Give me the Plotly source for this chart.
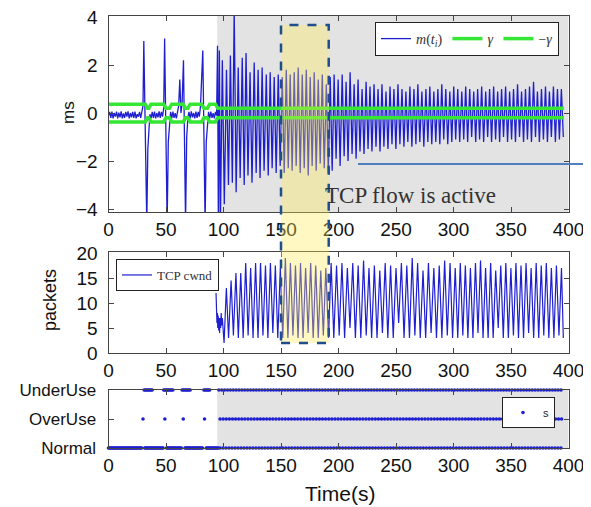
import plotly.graph_objects as go

# ---------------------------------------------------------------- data
time_ticks = [0, 50, 100, 150, 200, 250, 300, 350, 400]
ms_ticks = [-4, -2, 0, 2, 4]
pkt_ticks = [0, 5, 10, 15, 20]
state_vals = [0, 1, 2]
state_labels = ["Normal", "OverUse", "UnderUse"]

tcp_start = 94.5            # s, TCP flow becomes active (grey region)
highlight = [150.0, 191.5]  # s, highlighted interval

# m(t_i) before the TCP flow: (time s, value ms)
m_pre = [
    (0, -0.10), (1, 0.05), (2, -0.20), (3, 0.06), (4, -0.22), (5, 0.00), (6, -0.15), (7, 0.06),
    (8, -0.22), (9, 0.02), (10, -0.18), (11, 0.07), (12, -0.22), (13, -0.02), (14, -0.20), (15, 0.05),
    (16, -0.15), (17, 0.07), (18, -0.22), (19, 0.00), (20, -0.18), (21, 0.05), (22, -0.20), (23, 0.06),
    (24, -0.22), (25, -0.05), (26, -0.15), (27, 0.05), (28, -0.20), (29, 0.00),
    (30.0, 0.30), (30.7, 3.00), (33.3, -4.60), (34.2, -1.50), (35.2, -0.40),
    (36, -0.05), (37, -0.22), (38, 0.05), (39, -0.20), (40, 0.06), (41, -0.22), (42, 0.00), (43, -0.18),
    (44, 0.07), (45, -0.20), (46, 0.05), (47, -0.15), (48, 0.20),
    (48.8, 3.10), (51.0, -4.60), (52.0, -1.20), (53.0, -0.30),
    (54, 0.05), (55, -0.22), (56, 0.06), (57, -0.20), (58, 0.00), (59, -0.22), (60, 0.08), (61, 0.30),
    (62, 1.40), (63, 0.00), (64, 0.40),
    (65.2, 2.20), (67.0, -4.60), (68.0, -1.00), (69.0, -0.20),
    (70, 0.05), (71, -0.22), (72, 0.07), (73, -0.18), (74, 0.00), (75, -0.22), (76, 0.06), (77, -0.20),
    (78, 0.05), (79, -0.15), (80, 0.30),
    (82.0, 2.60), (84.0, -4.60), (85.0, -1.20), (86.0, -0.30),
    (87, 0.05), (88, -0.22), (89, 0.06), (90, -0.20), (91, 0.00), (92, -0.22), (93, 0.05), (94, -0.10),
    (94.8, 2.80), (95.6, -4.60), (96.4, 2.60), (97.3, -4.60), (98.0, -1.00),
]

# m(t_i) while the TCP flow is active: alternating peaks / troughs
m_tcp = [
    (99.0, 2.2), (100.7, -3.8), (102.6, 1.8), (104.3, -3.0), (106.0, 2.4), (107.7, -2.9), (109.3, 4.3),
    (111.0, -3.3), (112.8, 1.9), (114.5, -2.7), (116.3, 2.3), (118.0, -3.0), (119.6, 2.5), (121.3, -2.6),
    (123.1, 1.7), (124.8, -2.9), (126.7, 2.1), (128.4, -2.5), (130.1, 1.8), (131.8, -2.7), (133.6, 1.9),
    (135.3, -2.4), (137.2, 1.6), (138.9, -2.6), (140.6, 1.7), (142.3, -2.3), (144.1, 1.5), (145.8, -2.5),
    (147.6, 1.6), (149.3, -2.2),
    (151.1, 1.5), (152.8, -2.5), (154.6, 1.8), (156.3, -2.3), (158.0, 1.6), (159.7, -2.4), (161.5, 1.7),
    (163.2, -2.2), (165.0, 1.9), (166.7, -2.5), (168.5, 1.6), (170.2, -2.3), (172.0, 1.8), (173.7, -2.6),
    (175.4, 1.5), (177.1, -2.2), (178.9, 1.7), (180.6, -2.4), (182.4, 1.4), (184.1, -2.1), (185.9, 1.6),
    (187.6, -2.3), (189.4, 1.2), (191.1, -2.5), (192.8, 1.5), (194.5, -2.4), (196.2, 1.6), (197.9, -1.9),
    (199.7, 1.4),
    (201.4, -2.2), (203.2, 1.6), (204.9, -1.8), (206.6, 1.3), (208.3, -2.0), (210.1, 1.7), (211.8, -1.7),
    (213.6, 1.2), (215.3, -1.9), (217.0, 1.4), (218.7, -1.6), (220.5, 1.0), (222.2, -1.7), (224.0, 1.3),
    (225.7, -1.5), (227.4, 1.1), (229.1, -1.6), (230.9, 1.2), (232.6, -1.4), (234.4, 1.0), (236.1, -1.6),
    (237.8, 1.2), (239.5, -1.4), (241.3, 0.9), (243.0, -1.5), (244.8, 1.1), (246.5, -1.3), (248.2, 1.0),
    (249.9, -1.5),
    (251.7, 1.2), (253.4, -1.3), (255.2, 1.0), (256.9, -1.4), (258.6, 0.9), (260.3, -1.2), (262.1, 1.1),
    (263.8, -1.4), (265.6, 1.0), (267.3, -1.3), (269.0, 1.2), (270.7, -1.2), (272.5, 0.9), (274.2, -1.4),
    (276.0, 1.0), (277.7, -1.2), (279.4, 1.1), (281.1, -1.3), (282.9, 0.9), (284.6, -1.2), (286.4, 1.0),
    (288.1, -1.3), (289.8, 1.2), (291.5, -1.1), (293.3, 1.0), (295.0, -1.3), (296.8, 0.9), (298.5, -1.2),
    (300.2, 1.1), (301.9, -1.1), (303.7, 1.0), (305.4, -1.2), (307.2, 0.9), (308.9, -1.1), (310.6, 1.1),
    (312.3, -1.2), (314.1, 1.0), (315.8, -1.0), (317.6, 0.9), (319.3, -1.2), (321.0, 1.0), (322.7, -1.1),
    (324.5, 1.1), (326.2, -1.2), (328.0, 0.9), (329.7, -1.0), (331.4, 1.0), (333.1, -1.2), (334.9, 1.1),
    (336.6, -1.1), (338.4, 0.9), (340.1, -1.2), (341.8, 1.0), (343.5, -1.0), (345.3, 1.1), (347.0, -1.2),
    (348.8, 0.9),
    (350.5, -1.1), (352.2, 1.0), (353.9, -1.2), (355.7, 1.2), (357.4, -1.0), (359.2, 0.9), (360.9, -1.2),
    (362.6, 1.0), (364.3, -1.1), (366.1, 1.1), (367.8, -1.2), (369.6, 1.3), (371.3, -1.0), (373.0, 0.9),
    (374.7, -1.2), (376.5, 1.0), (378.2, -1.1), (380.0, 1.1), (381.7, -1.2), (383.4, 0.9), (385.1, -1.0),
    (386.9, 1.1), (388.6, -1.2), (390.4, 1.0), (392.1, -1.1), (393.8, 1.0), (395.5, -1.0),
]

# adaptive threshold gamma: (time s, value ms)
gamma = [
    (0, 0.37), (32, 0.37), (34, 0.20), (35, 0.20), (37, 0.37), (48, 0.37), (50, 0.20), (53, 0.20),
    (55, 0.37), (65, 0.37), (67, 0.20), (69, 0.20), (71, 0.37), (81, 0.37), (83, 0.20), (86, 0.20),
    (88, 0.37), (93, 0.37), (95, 0.20), (396, 0.20),
]

# TCP congestion window: (time s, packets)
cwnd = [
    (93.5, 12.0), (94.0, 9.0), (94.3, 6.0), (94.7, 8.0), (95.0, 5.0), (95.4, 7.5), (95.8, 4.5), (96.2, 7.0),
    (96.6, 4.0), (97.0, 7.0), (97.5, 5.0), (98.0, 8.0), (98.5, 5.5), (99.0, 7.0), (100.5, 2.0),
    (102.5, 13.0), (104.4, 3.0), (106.6, 14.5), (108.6, 3.5), (110.8, 16.0), (112.9, 3.0), (115.0, 16.0),
    (117.1, 3.0), (119.3, 18.0), (121.4, 3.5), (123.6, 17.0), (125.7, 3.0), (127.9, 18.0), (130.0, 3.0),
    (132.2, 18.0), (134.3, 3.5), (136.5, 17.5), (138.6, 3.0), (140.8, 18.0), (142.9, 4.0), (145.1, 17.5),
    (147.2, 3.0), (149.4, 17.0), (151.5, 3.0),
    (153.8, 19.0), (156.0, 3.0), (158.2, 18.0), (160.4, 3.5), (162.6, 17.5), (164.8, 3.0), (167.0, 18.0),
    (169.2, 3.0), (171.4, 17.0), (173.6, 4.0), (175.8, 18.0), (178.0, 3.0), (180.2, 17.5), (182.4, 3.0),
    (184.6, 16.5), (186.8, 3.5), (189.0, 17.0), (191.3, 3.0),
    (193.6, 18.0), (195.9, 3.0), (198.3, 17.5), (200.6, 3.5), (203.0, 18.0), (205.3, 3.0), (207.7, 17.0),
    (210.0, 5.0), (212.4, 18.0), (214.7, 3.0), (217.1, 17.5), (219.4, 3.0), (221.8, 18.5), (224.1, 3.5),
    (226.5, 17.0), (228.8, 3.0), (231.2, 17.5), (233.5, 3.0), (235.9, 16.5), (238.2, 4.0), (240.6, 18.0),
    (242.9, 3.0), (245.3, 17.5), (247.6, 3.0),
    (250.0, 17.0), (252.3, 6.0), (254.7, 18.0), (257.0, 3.0), (259.4, 17.5), (261.7, 3.0), (264.1, 19.0),
    (266.4, 3.5), (268.8, 18.0), (271.1, 3.0), (273.5, 16.5), (275.8, 3.0), (278.2, 18.0), (280.5, 4.0),
    (282.9, 17.0), (285.2, 3.0), (287.6, 17.5), (289.9, 3.0), (292.3, 18.5), (294.6, 3.5), (297.0, 18.0),
    (299.2, 3.0),
    (301.5, 17.0), (303.7, 3.0), (305.9, 18.0), (308.1, 3.5), (310.3, 17.5), (312.5, 3.0), (314.7, 17.0),
    (316.9, 3.0), (319.1, 18.0), (321.3, 4.0), (323.5, 18.5), (325.7, 3.0), (327.9, 17.0), (330.1, 3.0),
    (332.3, 18.0), (334.5, 3.0), (336.7, 16.5), (338.9, 5.0), (341.1, 17.5), (343.3, 3.0), (345.5, 18.0),
    (347.7, 3.0),
    (349.9, 17.0), (352.1, 3.5), (354.3, 18.0), (356.5, 3.0), (358.7, 17.5), (360.9, 3.0), (363.1, 18.0),
    (365.3, 4.0), (367.5, 17.0), (369.7, 3.0), (371.9, 18.0), (374.1, 3.0), (376.3, 17.5), (378.5, 3.5),
    (380.7, 18.0), (382.9, 3.0), (385.1, 17.0), (387.3, 3.0), (389.5, 17.5), (391.7, 3.5), (393.9, 17.0),
    (395.5, 3.0),
]

# detector state s: runs (start s, end s, sampling step s) per state, plus isolated samples
normal_runs = [(0, 29, 0.8), (31.5, 47.5, 0.8), (50.5, 63.5, 0.8), (66.5, 82, 0.8), (85, 96, 0.8), (97, 395, 2.6)]
overuse_runs = [(97, 395, 2.7)]
overuse_single = [30, 49, 65, 83.5]
underuse_runs = [(31, 38, 1.0), (48, 56, 1.0), (64, 71, 1.0), (83, 88, 1.0), (96, 395, 2.5)]

# ---------------------------------------------------------------- helpers
def expand(runs):
    out = []
    for a, b, step in runs:
        t = a
        while t <= b + 1e-9:
            out.append(round(t, 3))
            t += step
    return out

m_all = m_pre + m_tcp
m_t = [p[0] for p in m_all]
m_v = [p[1] for p in m_all]
g_t = [p[0] for p in gamma]
g_v = [p[1] for p in gamma]
c_t = [p[0] for p in cwnd]
c_v = [p[1] for p in cwnd]

s_t, s_v = [], []
for ts, val in ((expand(normal_runs), 0), (expand(overuse_runs) + overuse_single, 1), (expand(underuse_runs), 2)):
    s_t += ts
    s_v += [val] * len(ts)

# ---------------------------------------------------------------- layout geometry (screen pixels)
W, H = 591, 507
PAGE_MARGIN = 8            # default body margin of the html page
FW, FH = W - PAGE_MARGIN, H - PAGE_MARGIN
PL, PR = 108.5, 568.5
TOP = (16, 212)
MID = (252, 353)
BOT = (390, 448)
X_RANGE = [0, 400]


def fx(p):
    return (p - PAGE_MARGIN) / FW


def fy(p):
    return 1 - (p - PAGE_MARGIN) / FH


def tx(t):  # data time -> paper x
    return fx(PL + (t - X_RANGE[0]) / (X_RANGE[1] - X_RANGE[0]) * (PR - PL))


BLUE = "#1f1fd2"
GREEN = "#35e635"
AX = "#444444"
SANS = "Liberation Sans, Arial, sans-serif"
SERIF = "Liberation Serif, Times New Roman, serif"
TICKFONT = dict(family=SANS, size=19, color="#111111")

fig = go.Figure()
fig.add_trace(go.Scatter(x=m_t, y=m_v, mode="lines", line=dict(color=BLUE, width=1.3),
                         name="<i>m</i>(<i>t<sub>i</sub></i>)", xaxis="x", yaxis="y", legend="legend"))
fig.add_trace(go.Scatter(x=g_t, y=g_v, mode="lines", line=dict(color=GREEN, width=3.5),
                         name="<i>γ</i>", xaxis="x", yaxis="y", legend="legend"))
fig.add_trace(go.Scatter(x=g_t, y=[-v for v in g_v], mode="lines", line=dict(color=GREEN, width=3.5),
                         name="−<i>γ</i>", xaxis="x", yaxis="y", legend="legend"))
fig.add_trace(go.Scatter(x=c_t, y=c_v, mode="lines", line=dict(color=BLUE, width=1.2),
                         name="TCP cwnd", xaxis="x2", yaxis="y2", legend="legend2"))
fig.add_trace(go.Scatter(x=s_t, y=s_v, mode="markers", marker=dict(color=BLUE, size=3.6),
                         name="s", xaxis="x3", yaxis="y3", legend="legend3", cliponaxis=False))

common = dict(ticks="inside", ticklen=5, tickcolor=AX, showline=True, linecolor=AX, linewidth=1,
              mirror="ticks", showgrid=False, zeroline=False, tickfont=TICKFONT, automargin=False,
              ticklabeloverflow="allow")
xcommon = dict(range=X_RANGE, tickvals=time_ticks, ticklabelstandoff=0, **common)

fig.update_layout(
    width=FW, height=FH, margin=dict(l=0, r=0, t=0, b=0, pad=0, autoexpand=False),
    paper_bgcolor="white", plot_bgcolor="white", showlegend=True,
    xaxis=dict(domain=[fx(PL), fx(PR)], anchor="y", **xcommon),
    xaxis2=dict(domain=[fx(PL), fx(PR)], anchor="y2", **xcommon),
    xaxis3=dict(domain=[fx(PL), fx(PR)], anchor="y3", **xcommon),
    yaxis=dict(domain=[fy(TOP[1]), fy(TOP[0])], range=[-4.12, 4.04], tickvals=ms_ticks,
               ticklabelstandoff=6, **common),
    yaxis2=dict(domain=[fy(MID[1]), fy(MID[0])], range=[0, 20.2], tickvals=pkt_ticks,
                ticklabelstandoff=6, **common),
    yaxis3=dict(domain=[fy(BOT[1]), fy(BOT[0])], range=[0, 2], tickvals=state_vals, ticktext=state_labels,
                ticklabelstandoff=8, **{**common, "tickfont": dict(TICKFONT, size=17)}),
    legend=dict(orientation="h", x=fx(559), xanchor="right", y=fy(22), yanchor="top",
                bgcolor="white", bordercolor="#222", borderwidth=1, itemwidth=30,
                font=dict(family=SERIF, size=14, color="#333")),
    legend2=dict(orientation="h", x=fx(116), xanchor="left", y=fy(259), yanchor="top",
                 bgcolor="white", bordercolor="#222", borderwidth=1, itemwidth=30,
                 font=dict(family=SERIF, size=13, color="#333")),
    legend3=dict(orientation="h", x=fx(555), xanchor="right", y=fy(397), yanchor="top",
                 bgcolor="white", bordercolor="#222", borderwidth=1, itemwidth=30,
                 font=dict(family=SANS, size=11, color="#222")),
)

shapes = [
    # grey "TCP active" background, top and bottom panels
    dict(type="rect", xref="x", yref="y domain", x0=tcp_start, x1=X_RANGE[1], y0=0, y1=1,
         fillcolor="#e3e3e3", line=dict(width=0), layer="below"),
    dict(type="rect", xref="x3", yref="y3 domain", x0=tcp_start, x1=X_RANGE[1], y0=0, y1=1,
         fillcolor="#e3e3e3", line=dict(width=0), layer="below"),
    # highlighted interval spanning both upper panels
    dict(type="rect", xref="paper", yref="paper", x0=tx(highlight[0]), x1=tx(highlight[1]),
         y0=fy(343), y1=fy(25), fillcolor="rgba(255,236,80,0.35)",
         line=dict(color="#1f4e8c", width=2.5, dash="dash"), layer="above"),
    # pointer line for annotation
    dict(type="line", xref="paper", yref="paper", x0=fx(358), x1=1.0, y0=fy(164), y1=fy(164),
         line=dict(color="#4f7fbf", width=2)),
]
fig.update_layout(shapes=shapes)

ann = dict(xref="paper", yref="paper", showarrow=False, xanchor="center", yanchor="middle")
annotations = [
    dict(text="TCP flow is active", x=fx(411), y=fy(195), font=dict(family=SERIF, size=23, color="#333"), **ann),
    dict(text="ms", x=fx(68), y=fy(113), textangle=-90, font=dict(family=SANS, size=17, color="#111"), **ann),
    dict(text="packets", x=fx(50), y=fy(300), textangle=-90, font=dict(family=SANS, size=18, color="#111"), **ann),
    dict(text="Time(s)", x=fx(340), y=fy(493), font=dict(family=SANS, size=21, color="#111"), **ann),
]
fig.update_layout(annotations=annotations)

fig.write_html("out.html")
